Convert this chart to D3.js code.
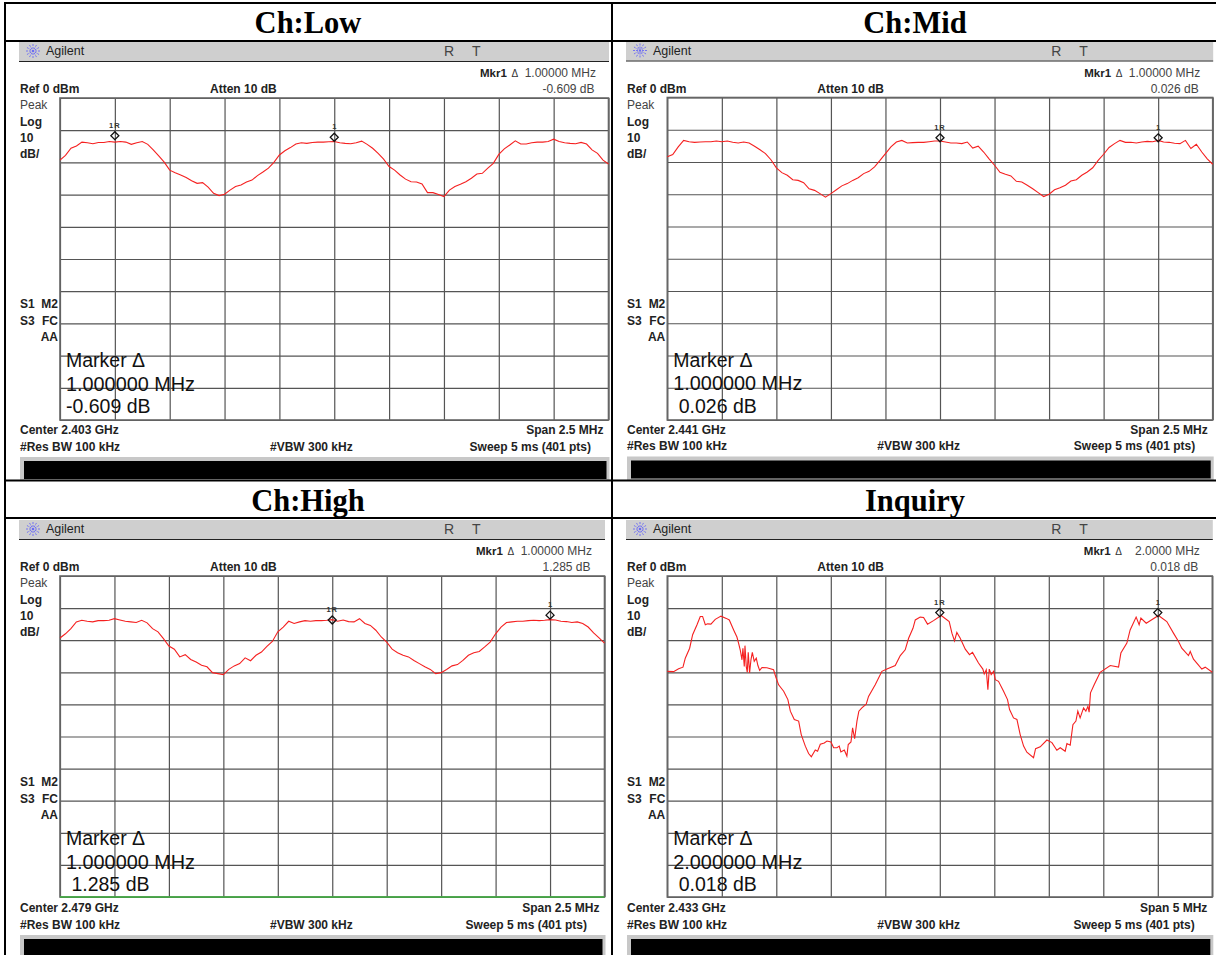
<!DOCTYPE html>
<html>
<head>
<meta charset="utf-8">
<script src="https://d3js.org/d3.v7.min.js"></script>
<style>
  html, body { margin: 0; padding: 0; background: #fff; overflow: hidden; }
  svg { display: block; }
  text { font-family: "Liberation Sans", Arial, sans-serif; }
</style>
</head>
<body>
<div id="chart"></div>
<script>
// values, dB per sweep point
const sweepPoints = d3.range(0, 401, 4);

const lowLevel = [-19.3,-17.8,-15.6,-14.9,-13.7,-13.9,-14.2,-13.8,-13.8,-13.5,-13.7,-13.5,-13.7,-14.4,-13.9,-13.5,-14.4,-16.1,-18,-19.9,
  -22.4,-23.2,-23.9,-24.7,-25.7,-26.5,-26.3,-27.7,-29.6,-30.3,-29.9,-28.6,-27.5,-27,-26.1,-25.5,-24.1,-23,-21.8,-20,
  -17.7,-16.4,-15.4,-14.3,-13.9,-14.1,-13.8,-13.7,-13.7,-13.6,-13.5,-13.9,-14.1,-14.2,-13.9,-13.4,-14.4,-15.6,-17.2,-19,
  -21.3,-22.4,-23.9,-25.2,-26,-26.1,-26.7,-29.4,-29.4,-30,-30.6,-28.6,-27.5,-26.8,-26,-24.9,-23.6,-23.4,-21.8,-20.3,
  -17.5,-15.8,-14.6,-13.3,-14.3,-14.3,-13.9,-13.7,-13.7,-13.5,-12.8,-13.5,-13.9,-14.1,-14.2,-13.8,-14.3,-16.1,-17.2,-19.3,-20.5];

const midLevel = [-18.4,-17.7,-15.3,-13.3,-13.7,-13.9,-13.8,-13.7,-13.7,-13.5,-13.7,-13.5,-13.9,-14.1,-13.8,-14.1,-15.1,-16.2,-17.4,-19.3,
  -21.8,-23.3,-24.1,-25.5,-25.7,-26.4,-28.3,-28.8,-29.8,-30.9,-29.8,-28.6,-27.4,-26.7,-25.7,-24.9,-23.6,-22.9,-21.5,-19.5,
  -17.4,-15.3,-13.8,-13.3,-14.1,-14,-13.9,-13.9,-13.7,-13.5,-13.5,-13.8,-14.1,-14.1,-14.3,-13.8,-15.7,-15.1,-16.9,-19,
  -21,-23.2,-23.8,-24.3,-26,-26.2,-27.2,-28.3,-29.5,-30.7,-30,-28.6,-28,-27.2,-25.9,-25.5,-24.1,-23.1,-21.8,-19.5,
  -17.6,-15.5,-14.3,-13.3,-13.9,-13.9,-14.1,-13.8,-13.6,-13.7,-13.3,-13.8,-13.9,-14.2,-14.3,-13.3,-15.8,-14.5,-16.9,-19,-20.7];

const highLevel = [-19.3,-18,-16.4,-14.3,-13.8,-14.1,-14.3,-13.9,-13.9,-13.8,-13.3,-13.7,-14.1,-14.3,-14.5,-13.8,-14.6,-16.4,-17.4,-19.5,
  -21.8,-22.8,-25.2,-24.5,-26,-26.8,-27.8,-28.3,-30.1,-30.4,-30.7,-29.1,-28,-27.3,-25.5,-26.4,-24.7,-23.7,-21.9,-20.4,
  -17.4,-15.9,-14.1,-14.8,-14.3,-13.9,-14.1,-13.9,-13.9,-13.8,-13.6,-14.1,-13.7,-14.2,-14.3,-13.3,-14.8,-15.4,-16.9,-19,
  -20.6,-22.8,-23.9,-24.7,-25.2,-26.3,-27.3,-28.3,-29.1,-30.4,-30.1,-29.1,-28,-27.6,-26.3,-24.7,-23.9,-23.5,-22.1,-20.6,
  -18,-15.9,-14.5,-14.3,-14.1,-14.1,-13.9,-13.8,-13.9,-13.8,-13.6,-13.7,-14.1,-14.2,-14.5,-14.3,-14.8,-15.9,-17.7,-19.3,-20.9];

const inquiryPoints = [0,4.6,8.3,11.5,13.2,16.4,18.6,21.8,24.2,25.9,27.9,29.6,32,35.2,39.4,43.3,45.5,48.7,51.1,52.3,53.6,54.8,55.5,56.5,57,58,58.7,59.4,60.4,61.4,62.4,63.8,65.3,66.5,67.8,69.5,73.1,78,79.5,81.7,85.4,88.5,90.3,93.2,96.4,98.3,
  101.3,103.7,105.7,108.6,110.3,112.3,115.2,117.2,120.1,122.1,124.5,126.2,127.4,129.9,131.8,132.8,134.8,136,137.5,139.2,140.6,142.8,146,147.7,152.6,157.5,161.2,167.3,171,174.6,177.1,180.3,
  182,185.6,188.1,191,195.4,201,206.9,208.9,210.8,212.5,215,218.7,221.8,224,228.4,231.6,232.6,234.1,235.3,236.3,237.7,239.5,240.7,243.1,246.8,249.7,251.2,254.1,256.6,259,261.5,263.9,268.8,270.3,273.7,278.6,282.3,285.9,288.4,292,293.3,295.7,297.7,299.9,
  301.3,303,305.5,307.2,308.7,309.6,310.6,313.3,317.7,325.1,331.2,332.9,337.3,339.7,344.1,346.3,347.6,351.5,360.5,366.6,371.5,375.2,377.6,382.5,383.8,386.2,392.3,394.8,400];
const inquiryLevel = [-29.7,-29.8,-28.9,-28.4,-25.6,-22.5,-18.3,-15.2,-12.6,-12.6,-15.2,-14.9,-15,-13.5,-12.5,-13.2,-13.7,-16.8,-19,-20.9,-23.2,-26.1,-22.5,-28.2,-21.7,-28.4,-30,-23.8,-30.2,-26.1,-23.8,-26.6,-25.6,-27.9,-29.4,-28.5,-28.6,-29.2,-31.3,-33.9,-35.9,-38.5,-42.1,-44.7,-45.2,-49.4,
  -53,-55.3,-56.3,-54.2,-54.6,-52.4,-52,-51.4,-51.7,-53.5,-53.5,-53,-54.8,-54.2,-56.1,-52.5,-51.7,-47.3,-50.7,-45.2,-42.1,-41.1,-39.9,-37.5,-33.9,-29.7,-29,-27.9,-24.8,-23,-19.4,-16.3,
  -13.7,-12.8,-12.9,-15,-13.9,-12.3,-14.2,-17.8,-20.2,-17.6,-19.4,-22.8,-24.5,-23.8,-27.1,-29,-30.5,-29.2,-35.4,-29,-30.7,-29.7,-32.3,-32.8,-35.9,-38.5,-41.6,-44.2,-44.7,-49.4,-53,-54.9,-56.6,-53.8,-53.2,-51.1,-51.9,-54.3,-53.5,-54.6,-52.2,-52.7,-46.3,-45.2,
  -42.1,-44.2,-41.1,-42.1,-40.6,-42.4,-36.4,-33.9,-30,-27.9,-28.4,-24,-20.9,-16.8,-12.8,-15.2,-13.1,-14.7,-12.3,-14.2,-17.8,-20.4,-22.5,-24.8,-23.5,-25.9,-29,-28.4,-30];

const titles = ["Ch:Low", "Ch:Mid", "Ch:High", "Inquiry"];
const centerLabels = ["Center 2.403 GHz", "Center 2.441 GHz", "Center 2.479 GHz", "Center 2.433 GHz"];
const spanLabels = ["Span 2.5 MHz", "Span 2.5 MHz", "Span 2.5 MHz", "Span 5 MHz"];
const mkrFreqLabels = ["1.00000 MHz", "1.00000 MHz", "1.00000 MHz", "2.0000 MHz"];
const mkrLevelLabels = ["-0.609 dB", "0.026 dB", "1.285 dB", "0.018 dB"];
const bigFreqLabels = ["1.000000 MHz", "1.000000 MHz", "1.000000 MHz", "2.000000 MHz"];
const bigLevelLabels = ["-0.609 dB", " 0.026 dB", " 1.285 dB", " 0.018 dB"];
const markerPoints = [[40, 200], [200, 360], [200, 360], [200, 360]];
const markerLevels = [[-11.7, -12.2], [-12.5, -12.5], [-13.7, -12.2], [-11.4, -11.4]];
const traces = [
  [sweepPoints, lowLevel],
  [sweepPoints, midLevel],
  [sweepPoints, highLevel],
  [inquiryPoints, inquiryLevel]
];

// plot rectangles
const boxes = [
  { x0: 60, x1: 608.5, y0: 98, y1: 420, left: 19, title: 308, ty: 33 },
  { x0: 667.3, x1: 1212.7, y0: 97.5, y1: 420, left: 626, title: 915, ty: 33 },
  { x0: 60, x1: 604.5, y0: 576, y1: 897, left: 19, title: 308, ty: 511 },
  { x0: 667.3, x1: 1212.3, y0: 576, y1: 897, left: 626, title: 915, ty: 511 }
];

const width = 1216, height = 955;
const svg = d3.select("#chart").append("svg").attr("width", width).attr("height", height);

boxes.forEach((b, i) => {
  const g = svg.append("g");
  const dy = b.y0 - 98;
  const x = d3.scaleLinear().domain([0, 400]).range([b.x0, b.x1]);
  const y = d3.scaleLinear().domain([-100, 0]).range([b.y1, b.y0]);

  const label = (tx, ty, s, opts = {}) => g.append("text")
    .attr("x", tx).attr("y", ty + dy)
    .attr("font-size", opts.size || 12)
    .attr("font-weight", opts.bold === false ? "normal" : "bold")
    .attr("fill", opts.fill || "#222")
    .attr("text-anchor", opts.anchor || "start")
    .attr("xml:space", "preserve")
    .text(s);

  // grey header bar
  g.append("rect").attr("x", b.left).attr("y", 42 + dy).attr("width", b.x1 + 0.5 - b.left).attr("height", 19).attr("fill", "#cfcfcf");
  g.append("line").attr("x1", b.left).attr("x2", b.x1 + 0.5).attr("y1", 61.5 + dy).attr("y2", 61.5 + dy).attr("stroke", "#222");

  // starburst logo
  d3.range(0, 180, 30).forEach(a => {
    const r = a * Math.PI / 180, cx = b.left + 14, cy = 51 + dy;
    g.append("line")
      .attr("x1", cx - 7 * Math.cos(r)).attr("x2", cx + 7 * Math.cos(r))
      .attr("y1", cy - 7 * Math.sin(r)).attr("y2", cy + 7 * Math.sin(r))
      .attr("stroke", "#6a6af5").attr("stroke-width", 0.9).attr("stroke-dasharray", "2 1");
  });
  label(b.left + 27, 55, "Agilent", { bold: false, size: 12.5, fill: "#222" });
  label(b.x0 + 384, 56, "R", { bold: false, size: 14, fill: "#444" });
  label(b.x0 + 412, 56, "T", { bold: false, size: 14, fill: "#444" });

  // readouts above the plot
  label(b.x1 - 128.5, 77, "Mkr1", { size: 11.5 });
  label(b.x1 - 97, 77, "Δ", { bold: false, size: 10, fill: "#333" });
  label(b.x1 - 12.5, 77, mkrFreqLabels[i], { bold: false, size: 12, anchor: "end", fill: "#444" });
  label(b.x1 - 14, 93, mkrLevelLabels[i], { bold: false, size: 12, anchor: "end", fill: "#444" });
  label(b.left + 1, 93, "Ref 0 dBm");
  label(b.x0 + 150, 93, "Atten 10 dB");

  // left column
  label(b.left + 1, 109, "Peak", { bold: false, fill: "#444" });
  label(b.left + 1, 126, "Log");
  label(b.left + 1, 142, "10");
  label(b.left + 1, 158, "dB/");
  label(b.left + 1, 308, "S1");
  label(b.x0 - 2, 308, "M2", { anchor: "end" });
  label(b.left + 1, 325, "S3");
  label(b.x0 - 2, 325, "FC", { anchor: "end" });
  label(b.x0 - 2, 341, "AA", { anchor: "end" });

  // grid from the scales
  const gridX = d3.axisBottom(x).tickValues(d3.range(0, 401, 40)).tickSize(b.y0 - b.y1).tickFormat("");
  const gridY = d3.axisLeft(y).tickValues(d3.range(-100, 1, 10)).tickSize(b.x0 - b.x1).tickFormat("");
  [g.append("g").attr("transform", `translate(0,${b.y1})`).call(gridX),
   g.append("g").attr("transform", `translate(${b.x0},0)`).call(gridY)].forEach(a => {
    a.select(".domain").remove();
    a.selectAll("line").attr("stroke", "#555").attr("stroke-width", 1.2);
  });
  g.append("rect").attr("x", b.x0).attr("y", b.y0).attr("width", b.x1 - b.x0).attr("height", b.y1 - b.y0)
    .attr("fill", "none").attr("stroke", "#666").attr("stroke-width", 1.6);
  if (i === 2) {
    g.append("line").attr("x1", b.x0).attr("x2", b.x1).attr("y1", b.y1).attr("y2", b.y1)
      .attr("stroke", "#3fb53f").attr("stroke-width", 1.5);
  }

  // trace
  const [pts, lev] = traces[i];
  g.append("path").datum(d3.zip(pts, lev))
    .attr("fill", "none").attr("stroke", "#f52020").attr("stroke-width", 1.1)
    .attr("d", d3.line().x(d => x(d[0])).y(d => y(d[1])));

  // markers
  markerPoints[i].forEach((p, k) => {
    const mx = x(p), my = y(markerLevels[i][k]);
    g.append("path")
      .attr("d", `M${mx},${my - 4}L${mx + 4},${my}L${mx},${my + 4}L${mx - 4},${my}Z`)
      .attr("fill", "none").attr("stroke", "#111").attr("stroke-width", 1.3);
    g.append("text").attr("x", mx).attr("y", my - 8).attr("text-anchor", "middle")
      .attr("font-size", 7.5).attr("font-family", "DejaVu Sans Mono").attr("font-weight", "bold")
      .attr("letter-spacing", k === 0 ? 1 : 0).attr("fill", "#333")
      .text(k === 0 ? "1R" : "1");
  });

  // big marker note over the grid
  const note = (ty, s) => g.append("text").attr("x", b.x0 + 6).attr("y", ty + dy)
    .attr("font-size", 19.5).attr("fill", "#111").attr("xml:space", "preserve").text(s);
  note(367, "Marker Δ");
  note(390.5, bigFreqLabels[i]).attr("textLength", 129).attr("lengthAdjust", "spacingAndGlyphs");
  note(413, bigLevelLabels[i]);

  // readouts below the plot
  label(b.left + 1, 434, centerLabels[i]);
  label(b.x1 - 5, 434, spanLabels[i], { anchor: "end" });
  label(b.left + 1, 450.5, "#Res BW 100 kHz");
  label(b.x0 + 210, 450.5, "#VBW 300 kHz");
  label(b.x1 - 17.5, 450.5, "Sweep 5 ms (401 pts)", { anchor: "end" });

  // status bar
  g.append("rect").attr("x", b.left + 1).attr("y", 457 + dy).attr("width", b.x1 - b.left).attr("height", 24).attr("fill", "#c8c8c8");
  g.append("rect").attr("x", b.left + 5).attr("y", 461 + dy).attr("width", b.x1 - b.left - 7).attr("height", 18).attr("fill", "#000");

  svg.append("text").attr("x", b.title).attr("y", b.ty).attr("text-anchor", "middle")
    .attr("font-size", 30.5).attr("font-weight", "bold").attr("fill", "#000")
    .style("font-family", '"Liberation Serif", "Times New Roman", serif').text(titles[i]);
});

// table rules drawn last
const ruleH = [3, 41, 480.5, 518], ruleV = [5, 612];
svg.append("rect").attr("x", 0).attr("y", 481).attr("width", width).attr("height", 37).attr("fill", "#fff").lower();
ruleH.forEach(v => svg.append("line").attr("x1", 4).attr("x2", width).attr("y1", v).attr("y2", v).attr("stroke", "#000").attr("stroke-width", 2));
ruleV.forEach(v => svg.append("line").attr("x1", v).attr("x2", v).attr("y1", 2).attr("y2", height).attr("stroke", "#000").attr("stroke-width", 2));
</script>
</body>
</html>
